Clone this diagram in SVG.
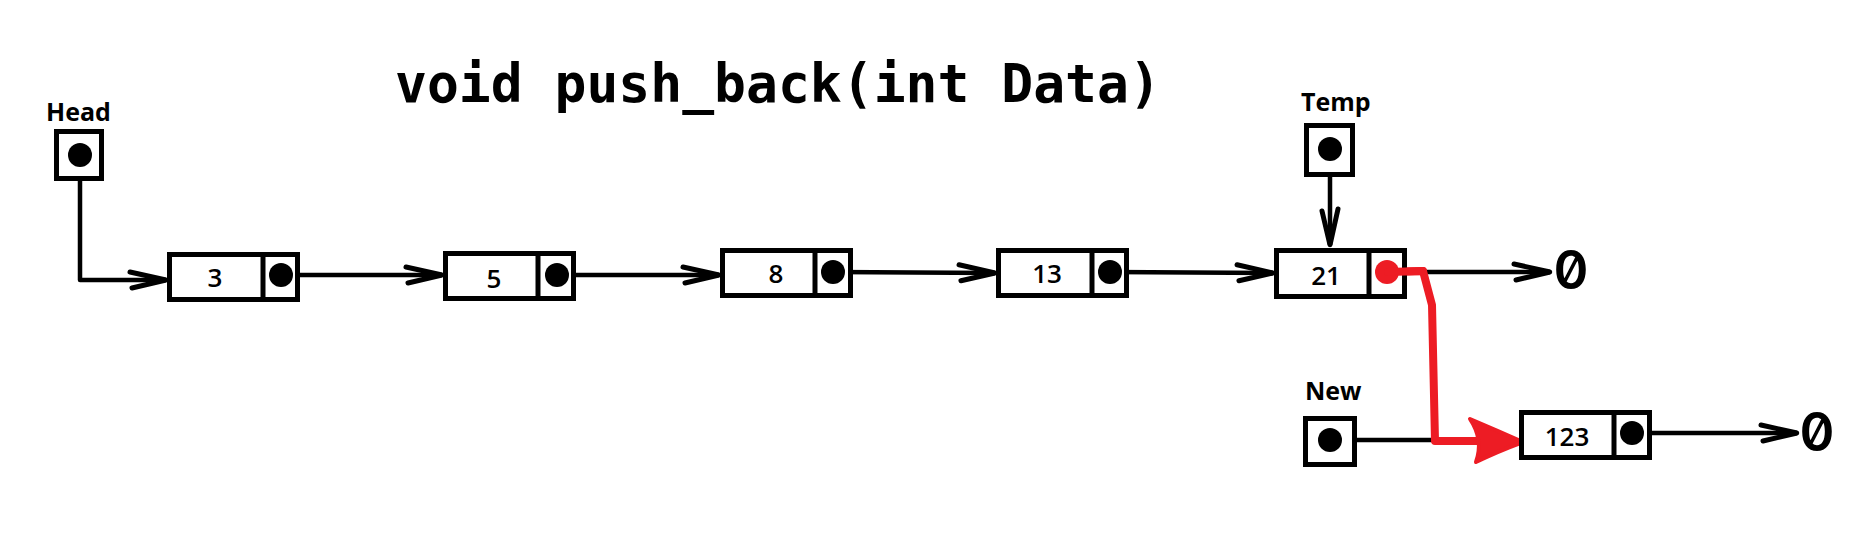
<svg xmlns="http://www.w3.org/2000/svg" width="1876" height="560" viewBox="0 0 1876 560">
<style>
.box{fill:#fff;stroke:#000;stroke-width:5}
.div{stroke:#000;stroke-width:5}
.dot{fill:#000}
.val{font-family:"Open Sans","Liberation Sans",sans-serif;font-weight:600;font-size:26px;text-anchor:middle;fill:#000}
.lbl{font-family:"Open Sans","Liberation Sans",sans-serif;font-weight:700;font-size:25px;fill:#000}
.zero{font-family:Inter,"DejaVu Sans Mono",monospace;font-weight:600;font-size:53px;text-anchor:middle;fill:#000;font-feature-settings:"zero" 1}
.ln{fill:none;stroke:#000;stroke-width:4.5;stroke-linecap:round;stroke-linejoin:round}
</style>
<defs>
<marker id="arr" markerUnits="userSpaceOnUse" markerWidth="50" markerHeight="30" refX="0" refY="0" viewBox="-42 -15 50 30" orient="auto" overflow="visible">
<path d="M-36,-8 L0,0 L-34,8" fill="none" stroke="#000" stroke-width="5" stroke-linecap="round" stroke-linejoin="miter"/>
</marker>
</defs>
<rect width="1876" height="560" fill="#fff"/>
<text x="395" y="102" font-family="'DejaVu Sans Mono','Liberation Mono',monospace" font-weight="700" font-size="53" fill="#000">void push_back(int Data)</text>

<g id="connectors">
<path class="ln" d="M80,155 L80,280 L166,280" marker-end="url(#arr)"/>
<path class="ln" d="M281,275 L442,275" marker-end="url(#arr)"/>
<path class="ln" d="M557,275 L719,275" marker-end="url(#arr)"/>
<path class="ln" d="M833,272 L995,273" marker-end="url(#arr)"/>
<path class="ln" d="M1110,272 L1273,273" marker-end="url(#arr)"/>
<path class="ln" d="M1388,272 L1550,272" marker-end="url(#arr)"/>
<path class="ln" d="M1330,149 L1330,245" marker-end="url(#arr)"/>
<path class="ln" d="M1330,440 L1432,440"/>
<path class="ln" d="M1632,433 L1797,433" marker-end="url(#arr)"/>
<g id="red-link">
<path d="M1388,272 L1423,271 L1432,305 L1435,441 L1490,441" fill="none" stroke="#ED1C24" stroke-width="8" stroke-linejoin="round" stroke-linecap="round"/>
<path d="M1470,419 Q1496,430 1523,442 Q1496,452 1476,462 Q1484,440 1470,419 Z" fill="#ED1C24" stroke="#ED1C24" stroke-width="4" stroke-linejoin="round"/>
</g>
</g>

<g id="head">
<text class="lbl" x="46" y="121">Head</text>
<rect class="box" x="56.5" y="131.5" width="45" height="47"/>
<circle class="dot" cx="80" cy="155" r="12"/>
</g>
<g id="temp">
<text class="lbl" x="1301" y="111">Temp</text>
<rect class="box" x="1306.5" y="125.5" width="46" height="49"/>
<circle class="dot" cx="1330" cy="149" r="12"/>
</g>
<g id="new">
<text class="lbl" x="1305" y="400">New</text>
<rect class="box" x="1305.5" y="418.5" width="49" height="46"/>
<circle class="dot" cx="1330" cy="440" r="12"/>
</g>

<g id="node3">
<rect class="box" x="169.5" y="254.5" width="128" height="45"/>
<line class="div" x1="263" y1="254" x2="263" y2="300"/>
<circle class="dot" cx="281" cy="275" r="12"/>
<text class="val" x="215" y="287">3</text>
</g>
<g id="node5">
<rect class="box" x="445.5" y="253.5" width="128" height="45"/>
<line class="div" x1="538" y1="253" x2="538" y2="299"/>
<circle class="dot" cx="557" cy="275" r="12"/>
<text class="val" x="494" y="288">5</text>
</g>
<g id="node8">
<rect class="box" x="722.5" y="250.5" width="128" height="45"/>
<line class="div" x1="815" y1="250" x2="815" y2="296"/>
<circle class="dot" cx="833" cy="272" r="12"/>
<text class="val" x="776" y="283">8</text>
</g>
<g id="node13">
<rect class="box" x="998.5" y="250.5" width="128" height="45"/>
<line class="div" x1="1092" y1="250" x2="1092" y2="296"/>
<circle class="dot" cx="1110" cy="272" r="12"/>
<text class="val" x="1047" y="283">13</text>
</g>
<g id="node21">
<rect class="box" x="1276.5" y="250.5" width="128" height="46"/>
<line class="div" x1="1369" y1="250" x2="1369" y2="297"/>
<text class="val" x="1326" y="285">21</text>
<circle cx="1387" cy="272" r="12" fill="#ED1C24"/>
<path d="M1388,272 L1423,271" fill="none" stroke="#ED1C24" stroke-width="8" stroke-linecap="round"/>
</g>
<g id="node123">
<rect class="box" x="1521.5" y="412.5" width="128" height="45"/>
<line class="div" x1="1614" y1="412" x2="1614" y2="458"/>
<circle class="dot" cx="1632" cy="433" r="12"/>
<text class="val" x="1567" y="446">123</text>
</g>

<g id="null1"><text class="zero" x="1571" y="289">0</text></g>
<g id="null2"><text class="zero" x="1817" y="451">0</text></g>
</svg>
